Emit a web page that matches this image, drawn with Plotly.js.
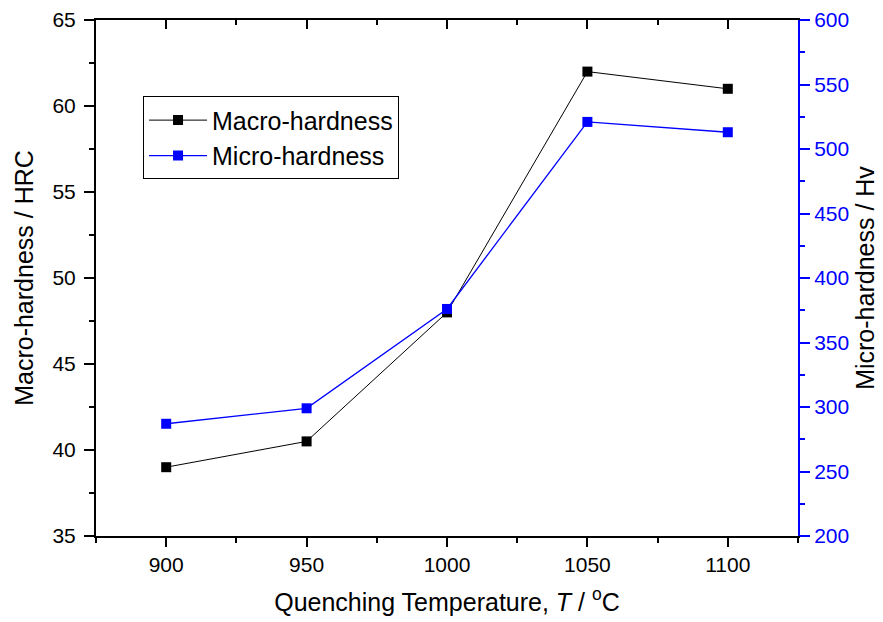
<!DOCTYPE html>
<html>
<head>
<meta charset="utf-8">
<script src="https://cdn.plot.ly/plotly-3.0.1.min.js"></script>
<style>html,body{margin:0;padding:0;background:#fff}#chart{width:883px;height:622px}</style>
</head>
<body>
<div id="chart"></div>
<script>
const temperatures = [900, 950, 1000, 1050, 1100];
const macroHardness = [39, 40.5, 48, 62, 61];
const microHardness = [287, 299, 376, 521, 513];
const seriesNames = ["Macro-hardness", "Micro-hardness"];

const FONT = "Arial, 'Liberation Sans', sans-serif";

const traces = [
  {
    x: temperatures, y: macroHardness, name: seriesNames[0],
    type: "scatter", mode: "lines+markers", xaxis: "x", yaxis: "y",
    line: {color: "#000000", width: 1},
    marker: {symbol: "square", size: 10, color: "#000000"}
  },
  {
    x: temperatures, y: microHardness, name: seriesNames[1],
    type: "scatter", mode: "lines+markers", xaxis: "x", yaxis: "y2",
    line: {color: "#0000ff", width: 1.3},
    marker: {symbol: "square", size: 10, color: "#0000ff"}
  },
  {
    x: temperatures, y: macroHardness, xaxis: "x2", yaxis: "y",
    type: "scatter", mode: "lines", opacity: 0, showlegend: false,
    hoverinfo: "skip", line: {width: 0}
  }
];

const layout = {
  width: 883, height: 622,
  margin: {l: 96, r: 85, t: 20, b: 86},
  paper_bgcolor: "#ffffff", plot_bgcolor: "#ffffff",
  font: {family: FONT, color: "#000000", size: 21},
  showlegend: true,
  legend: {
    x: 0.067, y: 0.852, xanchor: "left", yanchor: "top",
    bordercolor: "#000000", borderwidth: 1, bgcolor: "#ffffff",
    font: {family: FONT, size: 25, color: "#000000"},
    tracegroupgap: 0, itemwidth: 58
  },
  xaxis: {
    range: [875, 1125], tickvals: temperatures, ticks: "outside",
    ticklen: 9, tickwidth: 2, tickcolor: "#000",
    minor: {ticks: "outside", dtick: 25, tick0: 875, ticklen: 5, tickwidth: 2, tickcolor: "#000"},
    showline: true, linewidth: 2, linecolor: "#000", showgrid: false, zeroline: false,
    tickfont: {size: 21},
    title: {text: "Quenching Temperature, <i>T</i> / <sup>o</sup>C", font: {size: 25}, standoff: 18}
  },
  xaxis2: {
    overlaying: "x", side: "top", range: [875, 1125], tickvals: temperatures,
    ticks: "inside", ticklen: 9, tickwidth: 2, tickcolor: "#000",
    minor: {ticks: "inside", dtick: 25, tick0: 875, ticklen: 5, tickwidth: 2, tickcolor: "#000"},
    showticklabels: false, showline: true, linewidth: 2, linecolor: "#000",
    showgrid: false, zeroline: false
  },
  yaxis: {
    range: [35, 65], dtick: 5, ticks: "outside", ticklen: 10, tickwidth: 2, tickcolor: "#000",
    minor: {ticks: "outside", dtick: 2.5, ticklen: 5, tickwidth: 2, tickcolor: "#000"},
    showline: true, linewidth: 2, linecolor: "#000", showgrid: false, zeroline: false,
    tickfont: {size: 21}, ticklabelstandoff: 4,
    title: {text: "Macro-hardness / HRC", font: {size: 25}, standoff: 12}
  },
  yaxis2: {
    overlaying: "y", side: "right", range: [200, 600], dtick: 50,
    ticks: "outside", ticklen: 10, tickwidth: 2, tickcolor: "#0000ff",
    minor: {ticks: "outside", dtick: 25, ticklen: 5, tickwidth: 2, tickcolor: "#0000ff"},
    showline: true, linewidth: 2, linecolor: "#0000ff", showgrid: false, zeroline: false,
    tickfont: {size: 21, color: "#0000ff"},
    title: {text: "Micro-hardness / Hv", font: {size: 25, color: "#000000"}, standoff: 8}
  }
};

Plotly.newPlot("chart", traces, layout, {displayModeBar: false, staticPlot: true});
</script>
</body>
</html>
